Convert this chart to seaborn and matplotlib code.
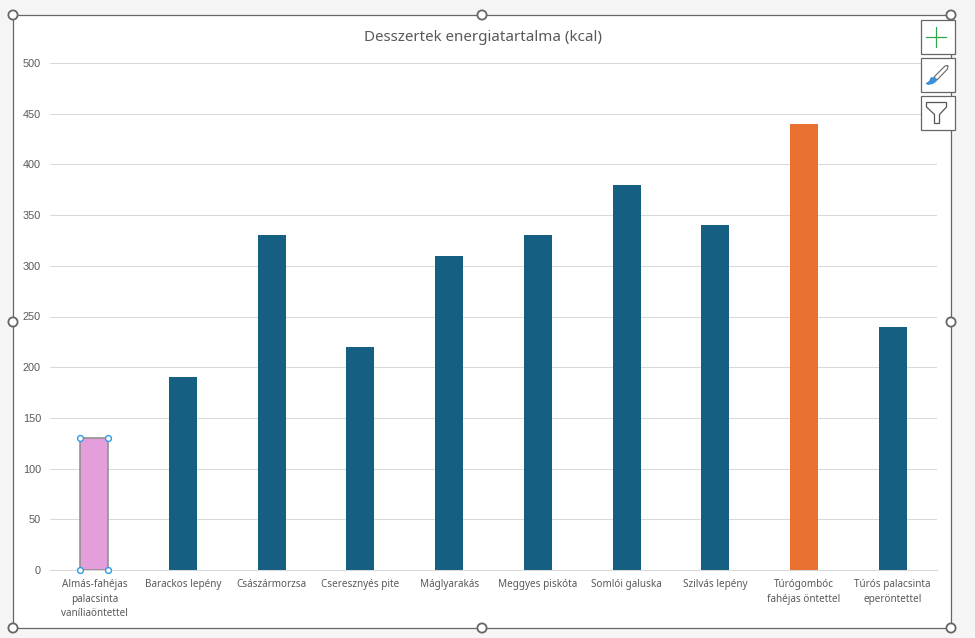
import matplotlib
matplotlib.use("Agg")
import matplotlib.pyplot as plt
from matplotlib.patches import Circle, Polygon, Rectangle
import pandas as pd
import seaborn as sns

desserts = [
    "Almás-fahéjas\npalacsinta\nvaníliaöntettel",
    "Barackos lepény",
    "Császármorzsa",
    "Cseresznyés pite",
    "Máglyarakás",
    "Meggyes piskóta",
    "Somlói galuska",
    "Szilvás lepény",
    "Túrógombóc\nfahéjas öntettel",
    "Túrós palacsinta\neperöntettel",
]
kcal = [130, 190, 330, 220, 310, 330, 380, 340, 440, 240]
bar_colors = ["#E49EDB", "#156082", "#156082", "#156082", "#156082",
              "#156082", "#156082", "#156082", "#E97132", "#156082"]
y_ticks = [0, 50, 100, 150, 200, 250, 300, 350, 400, 450, 500]
title = "Desszertek energiatartalma (kcal)"

W, H = 975, 638
TEXT = "#595959"
GRID = "#D9D9D9"
FRAME = "#666666"
HANDLE_BLUE = "#2E9BE6"

sns.set_theme(style="white")
plt.rcParams["font.family"] = ["Noto Sans", "DejaVu Sans"]

fig = plt.figure(figsize=(W / 100, H / 100), dpi=100, facecolor="#F5F5F5")

# chart area inside the selection frame
overlay = fig.add_axes([0, 0, 1, 1], zorder=0)
overlay.set_xlim(0, W)
overlay.set_ylim(H, 0)
overlay.axis("off")
overlay.add_patch(Rectangle((13, 15), 938, 613, fc="white", ec="none"))

ax = fig.add_axes([50 / W, 1 - 570 / H, 887 / W, 507 / H], zorder=1)
ax.patch.set_alpha(0)

df = pd.DataFrame({"dessert": desserts, "kcal": kcal})
sns.barplot(data=df, x="dessert", y="kcal", hue="dessert", palette=bar_colors,
            legend=False, width=0.315, saturation=1, linewidth=0, ax=ax)

ax.set_xlim(-0.5, len(desserts) - 0.5)
ax.set_ylim(0, 500)
ax.set_yticks(y_ticks)
ax.set_xlabel("")
ax.set_ylabel("")
ax.grid(axis="y", color=GRID, lw=0.75)
ax.set_axisbelow(True)
sns.despine(ax=ax, left=True, bottom=False, right=True, top=True)
ax.spines["bottom"].set_color(GRID)
ax.spines["bottom"].set_linewidth(0.75)
ax.tick_params(axis="x", length=0, pad=6.6, labelsize=7.15, labelcolor=TEXT)
ax.tick_params(axis="y", length=0, pad=6.5, labelsize=7.8, labelcolor=TEXT)
for lab in ax.get_yticklabels():
    lab.set_family("Liberation Sans")
for lab in ax.get_xticklabels():
    lab.set_linespacing(1.42)

# selected bar gets an outline and corner handles
first = ax.patches[0]
first.set_edgecolor("#8C8C8C")
first.set_linewidth(1.1)
x0, w, h = first.get_x(), first.get_width(), first.get_height()
for cx, cy in [(x0, h), (x0 + w, h), (x0, 0), (x0 + w, 0)]:
    ax.plot(cx, cy, "o", ms=4.2, mfc="white", mec=HANDLE_BLUE, mew=1.0,
            clip_on=False, zorder=5)

# selection frame, title and the chart buttons, in pixel coordinates
top = fig.add_axes([0, 0, 1, 1], zorder=2)
top.set_xlim(0, W)
top.set_ylim(H, 0)
top.axis("off")
top.add_patch(Rectangle((13, 15), 938, 613, fc="none", ec=FRAME, lw=0.9))
for hx in (13, 482, 951):
    for hy in (15, 322, 628):
        if hx == 482 and hy == 322:
            continue
        top.add_patch(Circle((hx, hy), 4.6, fc="white", ec=FRAME, lw=1.3))
top.text(482.5, 37.5, title, ha="center", va="center", fontsize=10.9, color=TEXT)

for by in (20, 58, 96):
    top.add_patch(Rectangle((920.5, by), 34, 34, fc="white", ec=FRAME, lw=0.9))
top.plot([926, 946], [37, 37], color="#2CA84A", lw=0.9)
top.plot([936, 936], [27, 47], color="#2CA84A", lw=0.9)
# brush
top.add_patch(Polygon([[934, 77], [945, 66], [948, 65.5], [947.5, 69], [937, 80]],
                      fc="white", ec="#666666", lw=0.8))
top.add_patch(Polygon([[925.5, 83.5], [929, 81], [931, 77], [936, 78], [937, 81],
                       [933, 84], [928, 85]],
                      fc="#3C8FD9", ec="none"))
# funnel
top.add_patch(Polygon([[926.5, 102.5], [946.5, 102.5], [946.5, 107], [939.5, 114.5],
                       [939.5, 123.5], [934.5, 123.5], [934.5, 114.5], [926.5, 107]],
                      fc="white", ec="#555555", lw=0.9))

fig.savefig("out.png", dpi=100, facecolor=fig.get_facecolor())
plt.close(fig)
